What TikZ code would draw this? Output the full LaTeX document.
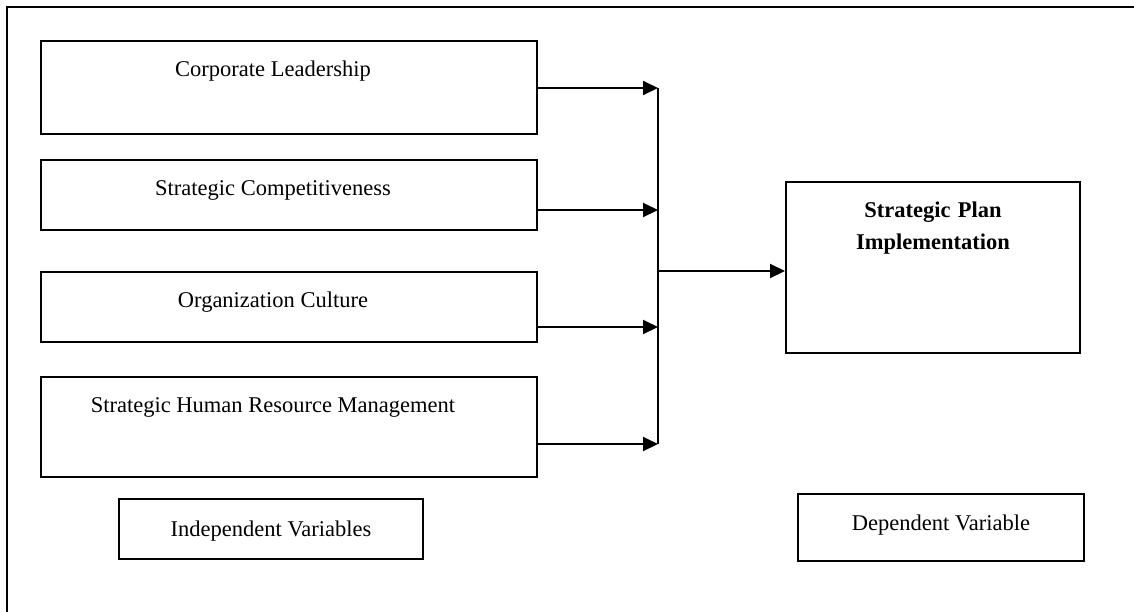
\documentclass[tikz,border=0pt]{standalone}
\usepackage{fontspec}
\setmainfont{Liberation Serif}
\usetikzlibrary{arrows.meta}
\tikzset{x=0.5pt,y=-0.5pt}
\def\shift{16pt}
\def\busx{658}

\begin{document}
\begin{tikzpicture}[
  font=\fontsize{11.25}{16}\selectfont,
  box/.style={draw, line width=1pt, rectangle, inner sep=0pt, anchor=north west, text height=17.5pt},
  arr/.style={line width=1pt, -{Triangle[length=7.5pt,width=7pt]}},
  ]

\useasboundingbox (0,0) rectangle (1134,611);
\clip (0,0) rectangle (1134,611);

% outer frame, only top and left edge inside the page
\draw[line width=1pt] (1150,7) -- (7,7) -- (7,630);

% independent variables
\node[box, minimum width=248pt, text depth=29pt] (lead) at (40,40) {Corporate Leadership\hspace*{\shift}};
\node[box, minimum width=248pt, text depth=17.5pt] (comp) at (40,159) {Strategic Competitiveness\hspace*{\shift}};
\node[box, minimum width=248pt, text depth=17.5pt] (cult) at (40,271) {Organization Culture\hspace*{\shift}};
\node[box, minimum width=248pt, text depth=32.5pt] (hrm) at (40,376) {Strategic Human Resource Management\hspace*{\shift}};

% dependent variable
\node[box, text width=147pt, align=center, text depth=68pt] (spi) at (785,181) {\textbf{Strategic Plan}\\\textbf{Implementation}};

% legend boxes
\node[box, minimum width=152pt, text height=18.5pt, text depth=11.5pt] (indep) at (118,498) {Independent Variables};
\node[box, minimum width=143pt, text height=18pt, text depth=15.5pt] (dep) at (797,493) {Dependent Variable};

% bus
\coordinate (b1) at (\busx,88);
\coordinate (b2) at (\busx,210);
\coordinate (b3) at (\busx,327);
\coordinate (b4) at (\busx,444);
\coordinate (bm) at (\busx,271);

\draw[arr] (lead.east |- b1) -- (b1);
\draw[arr] (comp.east |- b2) -- (b2);
\draw[arr] (cult.east |- b3) -- (b3);
\draw[arr] (hrm.east |- b4) -- (b4);
\draw[line width=1pt] (b1) -- (b4);
\draw[arr] (bm) -- (spi.west |- bm);

\end{tikzpicture}
\end{document}
